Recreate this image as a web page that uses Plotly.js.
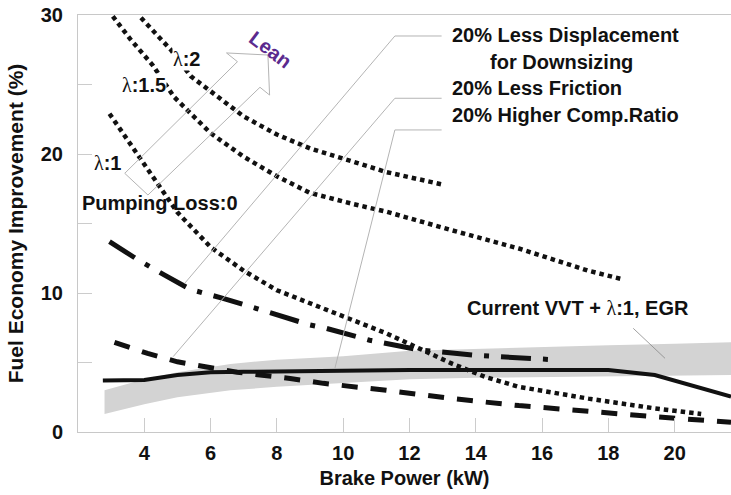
<!DOCTYPE html>
<html>
<head>
<meta charset="utf-8">
<script src="https://cdn.plot.ly/plotly-3.0.1.min.js"></script>
<style>html,body{margin:0;padding:0;background:#fff;}#chart{width:731px;height:495px;}</style>
</head>
<body>
<div id="chart"></div>
<script>
// ---- data ----
const lambda2X = [3.9, 4.8, 5.4, 6.0, 7.0, 8.0, 9.0, 10.3, 11.3, 13.0];
const lambda2Y = [29.8, 27.5, 25.6, 24.5, 22.7, 21.4, 20.4, 19.45, 18.7, 17.8];

const lambda15X = [3.05, 3.6, 4.25, 4.9, 6.0, 7.0, 8.0, 9.0, 10.3, 11.3, 13.3, 15.3, 17.4, 18.4];
const lambda15Y = [29.9, 28.2, 26.4, 24.1, 21.5, 19.8, 18.4, 17.2, 16.4, 15.85, 14.5, 13.2, 11.6, 11.0];

const lambda1X = [2.95, 3.5, 4.0, 4.5, 5.0, 6.0, 7.0, 8.0, 9.5, 11.3, 12.3, 13.3, 14.3, 15.3, 17.4, 19.4, 20.8];
const lambda1Y = [22.9, 21.0, 19.3, 17.65, 15.8, 13.3, 11.6, 10.2, 8.8, 7.1, 6.0, 4.9, 3.95, 3.25, 2.4, 1.7, 1.3];

const dashDotX = [2.95, 3.8, 4.6, 5.4, 6.4, 7.2, 8.2, 9.0, 9.5, 10.8, 12.3, 14.1, 16.35];
const dashDotY = [13.7, 12.4, 11.3, 10.25, 9.6, 9.0, 8.3, 7.7, 7.45, 6.6, 5.9, 5.5, 5.2];

const dashedX = [3.1, 4.1, 5.0, 5.8, 6.8, 8.4, 9.4, 11.3, 13.3, 15.3, 17.4, 19.4, 21.7];
const dashedY = [6.45, 5.65, 5.05, 4.7, 4.3, 3.85, 3.5, 3.0, 2.4, 1.9, 1.45, 1.1, 0.7];

const solidX = [2.75, 4.0, 5.0, 6.0, 7.0, 8.0, 9.5, 12.0, 15.0, 18.0, 19.4, 20.6, 21.7];
const solidY = [3.7, 3.75, 4.1, 4.3, 4.33, 4.36, 4.45, 4.46, 4.46, 4.46, 4.1, 3.26, 2.54];

const bandX  = [2.8, 4.0, 5.0, 6.6, 8.0, 10.0, 12.0, 14.0, 16.0, 18.0, 20.0, 21.7];
const bandLo = [1.3, 2.0, 2.5, 3.0, 3.25, 3.55, 3.8, 3.9, 3.95, 4.0, 4.05, 4.1];
const bandHi = [3.0, 3.8, 4.3, 4.9, 5.2, 5.45, 5.85, 6.0, 6.15, 6.25, 6.35, 6.45];

const xTickVals = [4, 6, 8, 10, 12, 14, 16, 18, 20];
const yTickVals = [0, 5, 10, 15, 20, 25, 30];
const yTickText = ['0', '', '10', '', '20', '', '30'];

// ---- styling ----
const FONT = 'Liberation Sans, Arial, Helvetica, sans-serif';
const INK = '#111111';
const LEAD = '#b4b4b4';
const LAM = "<span style='font-family:Liberation Serif, Times New Roman, serif;font-weight:normal'>λ</span>";

const dotLine = {color: INK, width: 4.5, dash: '4.5px,4px'};

const traces = [
  {x: bandX, y: bandLo, mode: 'lines', line: {width: 0, color: 'rgba(0,0,0,0)'}, hoverinfo: 'skip', showlegend: false},
  {x: bandX, y: bandHi, mode: 'lines', fill: 'tonexty', fillcolor: '#d3d3d3', line: {width: 0, color: 'rgba(0,0,0,0)'}, hoverinfo: 'skip', showlegend: false},
  {x: solidX, y: solidY, mode: 'lines', line: {color: INK, width: 4}, showlegend: false},
  {x: dashedX, y: dashedY, mode: 'lines', line: {color: INK, width: 5, dash: '16px,13px'}, showlegend: false},
  {x: dashDotX, y: dashDotY, mode: 'lines', line: {color: INK, width: 5, dash: '30px,12px,5px,12px'}, showlegend: false},
  {x: lambda1X, y: lambda1Y, mode: 'lines', line: dotLine, showlegend: false},
  {x: lambda15X, y: lambda15Y, mode: 'lines', line: dotLine, showlegend: false},
  {x: lambda2X, y: lambda2Y, mode: 'lines', line: dotLine, showlegend: false}
];

function ann(text, x, y, opts) {
  return Object.assign({
    text: text, x: x, y: y, xref: 'x', yref: 'y', showarrow: false,
    font: {family: FONT, size: 20, color: INK, weight: 'bold'}
  }, opts || {});
}

const annotations = [
  ann('Lean', 7.82, 27.48, {textangle: 37, font: {family: FONT, size: 20, color: '#5b2a8e', weight: 'bold'}}),
  ann(LAM + ':2', 5.29, 26.83, {bgcolor: '#ffffff', borderpad: 0}),
  ann(LAM + ':1.5', 3.99, 24.96, {bgcolor: '#ffffff', borderpad: 0}),
  ann(LAM + ':1', 2.90, 19.35),
  ann('Pumping Loss:0', 4.47, 16.47),
  ann('20% Less Displacement', 13.22, 28.56, {xanchor: 'left'}),
  ann('for Downsizing', 14.37, 26.62, {xanchor: 'left'}),
  ann('20% Less Friction', 13.22, 24.75, {xanchor: 'left'}),
  ann('20% Higher Comp.Ratio', 13.22, 22.81, {xanchor: 'left'}),
  ann('Current VVT + ' + LAM + ':1, EGR', 17.08, 8.92)
];

const leadLine = {color: LEAD, width: 1};
const shapes = [
  {type: 'path', xref: 'x', yref: 'y', path: 'M 12.97 28.49 L 11.56 28.49 L 5.22 10.70', line: leadLine},
  {type: 'path', xref: 'x', yref: 'y', path: 'M 12.97 24.01 L 11.56 24.01 L 4.87 5.42', line: leadLine},
  {type: 'path', xref: 'x', yref: 'y', path: 'M 12.97 21.73 L 11.56 21.73 L 9.75 4.58', line: leadLine},
  {type: 'line', xref: 'x', yref: 'y', x0: 18.75, y0: 7.46, x1: 19.71, y1: 5.30, line: {color: '#888888', width: 0.8}},
  {type: 'path', xref: 'x', yref: 'y',
   path: 'M 3.41 18.61 L 6.81 26.64 L 6.48 27.27 L 7.73 27.12 L 7.78 24.24 L 7.49 24.80 L 4.11 17.05 Z',
   line: {color: LEAD, width: 1}, fillcolor: 'rgba(0,0,0,0)'}
];

const layout = {
  width: 731, height: 495,
  margin: {l: 78, r: 0, t: 15, b: 63, pad: 0},
  paper_bgcolor: '#ffffff', plot_bgcolor: '#ffffff',
  showlegend: false,
  font: {family: FONT, color: INK},
  xaxis: {
    range: [2, 21.7], tickvals: xTickVals, ticks: 'inside', ticklen: 14, tickcolor: '#cccccc', tickwidth: 1,
    showgrid: false, zeroline: false, showline: true, linecolor: '#c8c8c8', linewidth: 1, mirror: true,
    tickfont: {family: FONT, size: 20, color: INK, weight: 'bold'}, ticklabelstandoff: 3,
    title: {text: 'Brake Power (kW)', font: {family: FONT, size: 20, color: INK, weight: 'bold'}, standoff: 7}
  },
  yaxis: {
    range: [0, 30], tickvals: yTickVals, ticktext: yTickText, ticks: 'inside', ticklen: 14, tickcolor: '#cccccc', tickwidth: 1,
    showgrid: false, zeroline: false, showline: true, linecolor: '#c8c8c8', linewidth: 1, mirror: false,
    tickfont: {family: FONT, size: 20, color: INK, weight: 'bold'}, ticklabelstandoff: 10,
    title: {text: 'Fuel Economy Improvement (%)', font: {family: FONT, size: 21, color: INK, weight: 'bold'}, standoff: 11}
  },
  annotations: annotations,
  shapes: shapes
};

Plotly.newPlot('chart', traces, layout, {displayModeBar: false, staticPlot: true});
</script>
</body>
</html>
